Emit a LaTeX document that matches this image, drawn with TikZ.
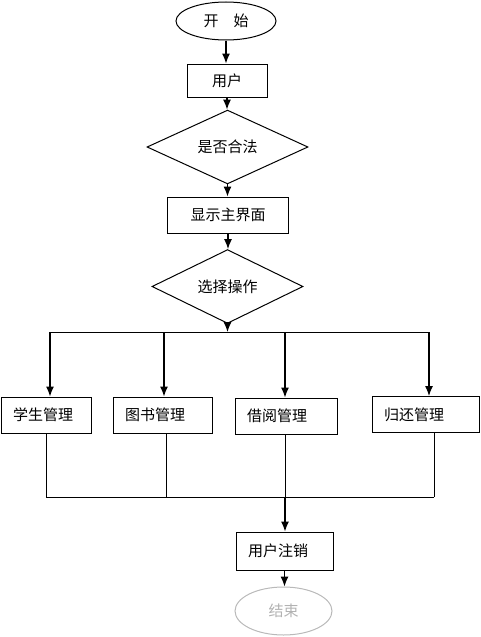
\documentclass[tikz,border=0pt]{standalone}
\usepackage{fontspec}
\setmainfont{Noto Sans CJK SC}
\usetikzlibrary{shapes.geometric,arrows.meta}
\tikzset{
  box/.style={draw, rectangle, line width=1pt, inner sep=0pt, font=\fontsize{15}{17}\selectfont},
  mgmt/.style={box, inner xsep=12pt, text width=#1-24pt, align=left, minimum height=36pt},
  decision/.style={draw, diamond, line width=1pt, inner sep=0pt, font=\fontsize{15}{17}\selectfont},
  term/.style={draw, ellipse, line width=1pt, inner sep=0pt, font=\fontsize{15}{17}\selectfont},
  arr/.style={line width=1.2pt, -{Latex[length=10pt,width=8pt]}},
  link/.style={line width=1pt}
}
\begin{document}
\begin{tikzpicture}[x=1pt, y=-1pt]
  \useasboundingbox (0,0) rectangle (480,637);
  % Nodes
  \node[term, minimum width=100pt, minimum height=38pt] (start) at (226,21) {开\hspace{1em}始};
  \node[box, minimum width=80pt, minimum height=33pt] (user) at (227,80.5) {用户};
  \node[decision, minimum width=161pt, minimum height=51pt] (check) at (227.5,147) {是否合法};
  \node[box, minimum width=121pt, minimum height=36pt] (main) at (228,215) {显示主界面};
  \node[decision, minimum width=151pt, minimum height=49pt] (choose) at (227.5,286.5) {选择操作};

  \node[mgmt=90pt] (student) at (46,415) {学生管理};
  \node[mgmt=99pt] (book) at (162.5,415) {图书管理};
  \node[mgmt=102pt] (borrow) at (286,416) {借阅管理};
  \node[mgmt=107pt] (return) at (425.5,414.5) {归还管理};

  \node[box, inner xsep=12pt, text width=73pt, align=left, minimum height=38pt] (logout) at (284.5,551) {用户注销};
  \node[term, draw=gray!55, text=gray!60, minimum width=97pt, minimum height=48pt] (end) at (283.5,611) {结束};

  % Split and join points
  \coordinate (split) at (228,332);
  \coordinate (t1) at (50,332);
  \coordinate (t2) at (164,332);
  \coordinate (t3) at (285,332);
  \coordinate (t4) at (429,332);
  \coordinate (m1) at (46,497);
  \coordinate (m2) at (166,497);
  \coordinate (m3) at (285,497);
  \coordinate (m4) at (434,497);

  % Edges
  \foreach \a/\b in {start/user, user/check, check/main, main/choose}
    \draw[arr] (\a.south) -- (\a.south |- \b.north);
  \draw[arr] (choose.south) -- (choose.south |- split);
  \draw[link] (t1) -- (t4);
  \foreach \t/\b in {t1/student, t2/book, t3/borrow, t4/return}
    \draw[arr] (\t) -- (\t |- \b.north);
  \foreach \m/\b in {m1/student, m2/book, m3/borrow, m4/return}
    \draw[link] (\m |- \b.south) -- (\m);
  \draw[link] (m1) -- (m4);
  \draw[arr] (m3) -- (m3 |- logout.north);
  \draw[arr] (logout.south) -- (logout.south |- end.north);
\end{tikzpicture}
\end{document}
